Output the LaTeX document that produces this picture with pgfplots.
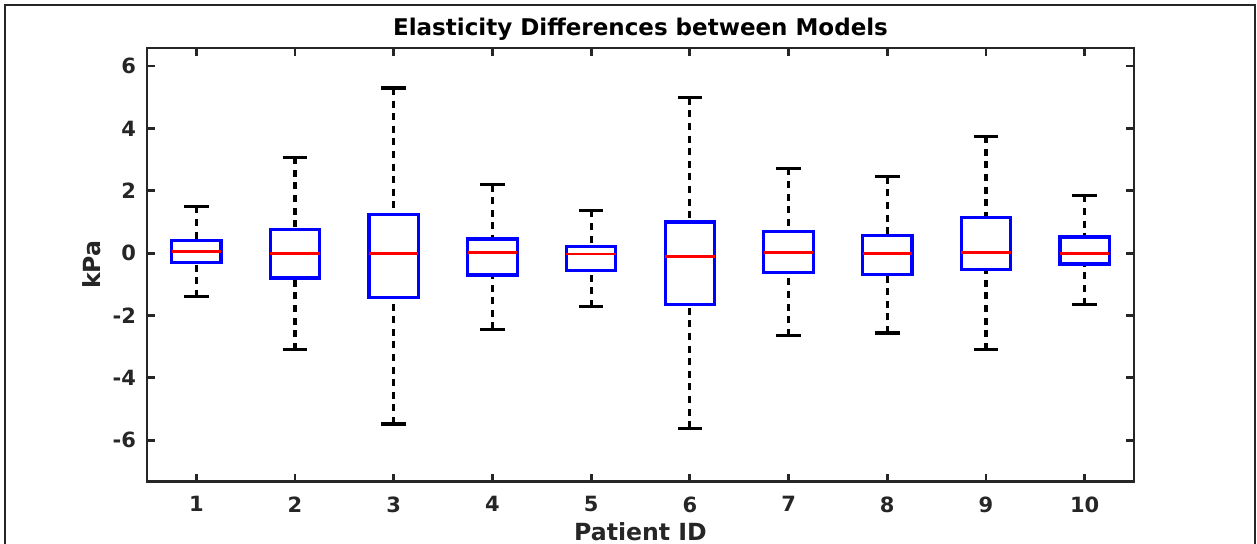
\documentclass[border=0pt]{standalone}
\usepackage{fontspec}
\setmainfont{DejaVu Sans}
\usepackage{pgfplots}
\pgfplotsset{compat=1.18}
\usepgfplotslibrary{statistics}
\definecolor{axgray}{RGB}{38,38,38}
\pgfplotsset{
  mybox/.style={
    solid, draw=blue, line width=1.6pt,
    boxplot/draw direction=y,
    boxplot/box extend=0.5,
    boxplot/whisker extend=0.25,
    boxplot/draw/lower whisker/.code={%
      \draw[black, line width=1.6pt, dash pattern=on 3.5pt off 2.8pt]
        (boxplot cs:\pgfplotsboxplotvalue{lower whisker}) --
        (boxplot cs:\pgfplotsboxplotvalue{lower quartile});
      \draw[black, line width=1.6pt, solid]
        (boxplot whisker cs:\pgfplotsboxplotvalue{lower whisker},0) --
        (boxplot whisker cs:\pgfplotsboxplotvalue{lower whisker},1);
    },
    boxplot/draw/upper whisker/.code={%
      \draw[black, line width=1.6pt, dash pattern=on 3.5pt off 2.8pt]
        (boxplot cs:\pgfplotsboxplotvalue{upper whisker}) --
        (boxplot cs:\pgfplotsboxplotvalue{upper quartile});
      \draw[black, line width=1.6pt, solid]
        (boxplot whisker cs:\pgfplotsboxplotvalue{upper whisker},0) --
        (boxplot whisker cs:\pgfplotsboxplotvalue{upper whisker},1);
    },
    boxplot/draw/median/.code={%
      \draw[red, line width=1.4pt]
        (boxplot box cs:\pgfplotsboxplotvalue{median},0) --
        (boxplot box cs:\pgfplotsboxplotvalue{median},1);
    },
    boxplot/every box/.style={draw=blue, line width=1.6pt},
  }
}
\begin{document}
\begin{tikzpicture}
\begin{axis}[
  name=ax,
  scale only axis,
  width=493.5pt, height=216.8pt,
  xmin=0.5, xmax=10.5,
  ymin=-7.33, ymax=6.58,
  xtick={1,2,3,4,5,6,7,8,9,10},
  ytick={-6,-4,-2,0,2,4,6},
  tick align=inside,
  major tick length=4pt,
  axis line style={axgray, line width=1.4pt},
  every tick/.style={axgray, line width=1.4pt},
  tick label style={font=\bfseries\fontsize{10.5}{12}\selectfont, text=axgray},
  /pgf/number format/assume math mode=true,
  xticklabel style={yshift=-4pt},
  yticklabel style={xshift=-2pt},
  title={Elasticity Differences between Models},
  title style={font=\bfseries\fontsize{11.5}{13}\selectfont, yshift=-6pt},
  xlabel={Patient ID},
  ylabel={kPa},
  label style={font=\bfseries\fontsize{11.8}{13}\selectfont, text=axgray},
  xlabel style={yshift=2pt},
  ylabel style={yshift=-1pt},
]
\addplot+[mybox, boxplot prepared={draw position=1, lower whisker=-1.40, lower quartile=-0.30, median=0.05, upper quartile=0.40, upper whisker=1.50}] coordinates {};
\addplot+[mybox, boxplot prepared={draw position=2, lower whisker=-3.10, lower quartile=-0.80, median=0.00, upper quartile=0.75, upper whisker=3.08}] coordinates {};
\addplot+[mybox, boxplot prepared={draw position=3, lower whisker=-5.48, lower quartile=-1.42, median=-0.01, upper quartile=1.25, upper whisker=5.30}] coordinates {};
\addplot+[mybox, boxplot prepared={draw position=4, lower whisker=-2.45, lower quartile=-0.70, median=0.02, upper quartile=0.45, upper whisker=2.20}] coordinates {};
\addplot+[mybox, boxplot prepared={draw position=5, lower whisker=-1.72, lower quartile=-0.56, median=-0.03, upper quartile=0.21, upper whisker=1.37}] coordinates {};
\addplot+[mybox, boxplot prepared={draw position=6, lower whisker=-5.62, lower quartile=-1.66, median=-0.11, upper quartile=1.00, upper whisker=4.98}] coordinates {};
\addplot+[mybox, boxplot prepared={draw position=7, lower whisker=-2.65, lower quartile=-0.62, median=0.02, upper quartile=0.70, upper whisker=2.72}] coordinates {};
\addplot+[mybox, boxplot prepared={draw position=8, lower whisker=-2.56, lower quartile=-0.68, median=0.00, upper quartile=0.56, upper whisker=2.45}] coordinates {};
\addplot+[mybox, boxplot prepared={draw position=9, lower whisker=-3.10, lower quartile=-0.52, median=0.03, upper quartile=1.15, upper whisker=3.75}] coordinates {};
\addplot+[mybox, boxplot prepared={draw position=10, lower whisker=-1.65, lower quartile=-0.35, median=0.00, upper quartile=0.52, upper whisker=1.85}] coordinates {};
\end{axis}
\pgfresetboundingbox
\path[use as bounding box] ([xshift=-73.5pt,yshift=-31.2pt]ax.south west) rectangle ([xshift=61.5pt,yshift=24pt]ax.north east);
\draw[black!85, line width=1pt] ([xshift=-71pt,yshift=-40pt]ax.south west) -- ([xshift=-71pt,yshift=21.5pt]ax.north west) -- ([xshift=60.5pt,yshift=21.5pt]ax.north east) -- ([xshift=60.5pt,yshift=-40pt]ax.south east);
\end{tikzpicture}
\end{document}
